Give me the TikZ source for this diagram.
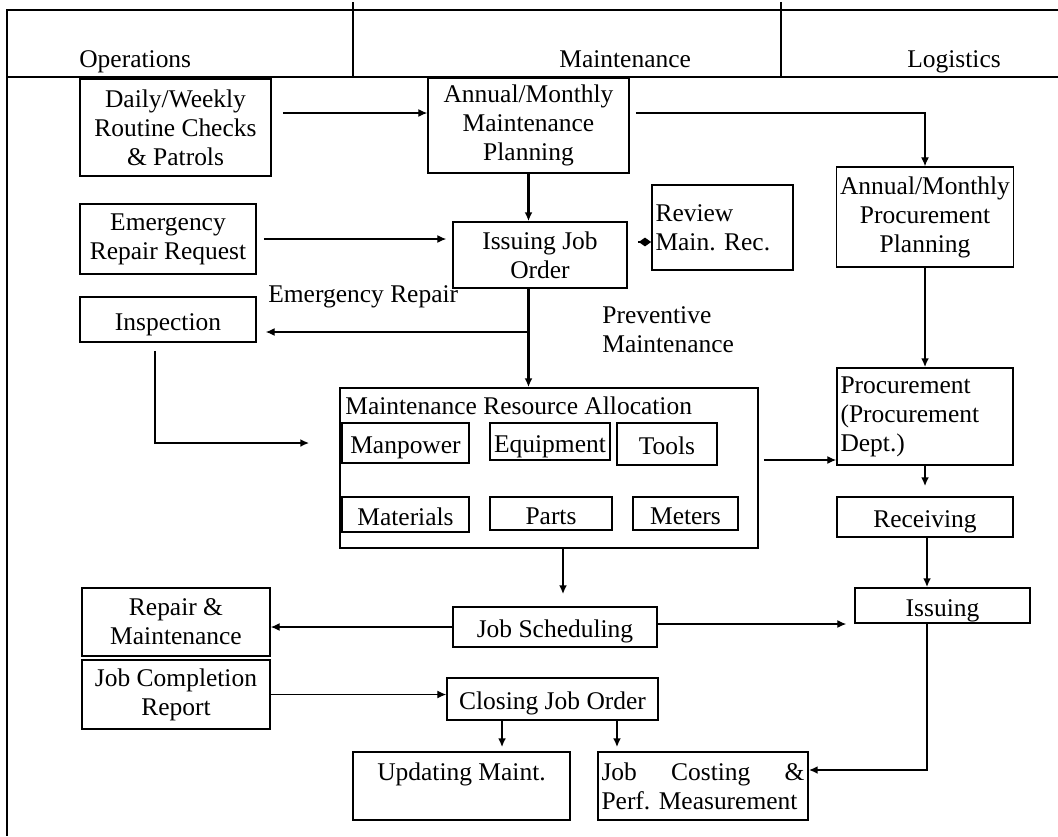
\documentclass[tikz,border=0pt]{standalone}
\usepackage{fontspec}
\setmainfont{Liberation Serif}
\usetikzlibrary{arrows.meta}

\begin{document}
\frenchspacing
\begin{tikzpicture}[x = 0.02cm, y = -0.02cm, font = \fontsize{14.5}{16.5}\selectfont,
    box/.style = { draw, line width = 1pt, inner sep = 2pt, align = center },
    sbox/.style = { box, text height = 12pt, text depth = 0pt },
    lbox/.style = { box, align = left },
    thinline/.style = { line width = .6pt, -{Latex[length = 5pt, width = 4.5pt]} },
    thickline/.style = { line width = 1.2pt, -{Latex[length = 5pt, width = 4.5pt]} }]
    \useasboundingbox (0,0) rectangle (1058,836);
    \draw[line width = 1.6pt] (1058,10) -- (7,10) -- (7,836);
    \draw[line width = 1pt] (7,77) -- (1058,77);
    \draw[line width = 1.4pt] (353,2) -- (353,77) (781,2) -- (781,77);
    \node[anchor = base west, inner sep = 0pt] (ops) at (79,67) {Operations};
    \node[anchor = base west, inner sep = 0pt] (mnt) at (559,67) {Maintenance};
    \node[anchor = base west, inner sep = 0pt] (log) at (907,67) {Logistics};

    \node[box, minimum width = 3.82cm, minimum height = 1.94cm] (daily) at (175.5,127.5) {Daily/Weekly\\Routine Checks\\\& Patrols};
    \node[box, minimum width = 4.02cm, minimum height = 1.90cm] (amp) at (528.5,125.5) {Annual/Monthly\\Maintenance\\Planning};
    \node[box, minimum width = 3.52cm, minimum height = 1.40cm] (err) at (168,239) {Emergency\\Repair Request};
    \node[box, minimum width = 3.48cm, minimum height = 1.32cm] (ijo) at (540,255) {Issuing Job\\Order};
    \node[lbox, text width = 2.68cm, minimum height = 1.70cm] (rev) at (722.5,227.5) {Review\\Main. Rec.};
    \node[box, minimum width = 3.52cm, minimum height = 2.00cm] (app) at (925,217) {Annual/Monthly\\Procurement\\Planning};
    \node[sbox, minimum width = 3.52cm, minimum height = 0.90cm] (insp) at (168,319.5) {Inspection};
    \node[box, minimum width = 8.36cm, minimum height = 3.20cm] (mra) at (549,468) {};
    \node[anchor = base west, inner sep = 0pt] (mratitle) at (345,414) {Maintenance Resource Allocation};
    \node[sbox, minimum width = 2.54cm, minimum height = 0.80cm] (manp) at (405.5,443) {Manpower};
    \node[sbox, minimum width = 2.40cm, minimum height = 0.74cm] (equip) at (550,441.5) {Equipment};
    \node[sbox, minimum width = 2.00cm, minimum height = 0.84cm] (tools) at (667,444) {Tools};
    \node[sbox, minimum width = 2.54cm, minimum height = 0.70cm] (matl) at (405.5,514.5) {Materials};
    \node[sbox, minimum width = 2.44cm, minimum height = 0.66cm] (parts) at (551,513.5) {Parts};
    \node[sbox, minimum width = 2.10cm, minimum height = 0.66cm] (meters) at (685.5,513.5) {Meters};
    \node[lbox, text width = 3.38cm, minimum height = 1.94cm] (proc) at (925,416.5) {Procurement\\(Procurement\\Dept.)};
    \node[sbox, minimum width = 3.52cm, minimum height = 0.80cm] (recv) at (925,517) {Receiving};
    \node[sbox, minimum width = 3.50cm, minimum height = 0.70cm] (iss) at (942.5,605.5) {Issuing};
    \node[sbox, minimum width = 4.08cm, minimum height = 0.80cm] (js) at (555,627) {Job Scheduling};
    \node[box, minimum width = 3.76cm, minimum height = 1.36cm] (rm) at (176,622) {Repair \&\\Maintenance};
    \node[box, minimum width = 3.76cm, minimum height = 1.38cm] (jcr) at (176,694.5) {Job Completion\\Report};
    \node[sbox, minimum width = 4.22cm, minimum height = 0.84cm] (cjo) at (552.5,699) {Closing Job Order};
    \node[box, minimum width = 4.34cm, minimum height = 1.36cm] (upd) at (461.5,786) {Updating Maint.\\\mbox{}};
    \node[lbox, text width = 4.06cm, minimum height = 1.36cm] (jc) at (703,786) {Job\hfill Costing\hfill \&\\Perf. Measurement};
    \node[anchor = base west, inner sep = 0pt] (erlab) at (268,302) {Emergency Repair};
    \node[anchor = north west, align = left, inner sep = 0pt] (pmlab) at (602,306) {Preventive\\Maintenance};

    \coordinate (er) at (528.5,332);
    \draw[thinline, shorten <= 0.22cm] ([yshift = 0.29cm]daily.east) -- ([yshift = 0.29cm]daily.east -| amp.west);
    \draw[thinline, shorten <= 0.12cm] ([yshift = 0.25cm]amp.east) -| (app.north);
    \draw[thickline] (amp.south) -- (amp.south |- ijo.north);
    \draw[thinline, shorten <= 0.14cm, shorten >= 0.12cm] (err.east) -- (err.east -| ijo.west);
    \draw[line width = .6pt, -{Diamond[length = 7pt, width = 5pt]}, shorten <= 0.2cm] ([yshift = -0.29cm]rev.west -| ijo.east) -- ([yshift = -0.29cm]rev.west);
    \draw[thickline] (amp.south |- ijo.south) -- (amp.south |- mra.north);
    \draw[thinline, shorten >= 0.18cm] (er) -- (er -| insp.east);
    \draw[thickline, shorten <= 0.16cm, shorten >= 0.64cm] ([xshift = -0.26cm]insp.south) |- (manp.west);
    \draw[thinline, shorten <= 0.1cm] ([yshift = -0.87cm]proc.west -| mra.east) -- ([yshift = -0.87cm]proc.west);
    \draw[thickline] (app.south) -- (proc.north);
    \draw[thickline, shorten >= 0.2cm] (proc.south) -- (recv.north);
    \draw[thickline] ([xshift = 0.04cm]recv.south) -- ([xshift = 0.04cm]recv.south |- iss.north);
    \draw[thickline, shorten >= 0.24cm] ([xshift = 0.28cm]mra.south) -- ([xshift = 0.28cm]mra.south |- js.north);
    \draw[thinline, shorten >= 0.16cm] ([yshift = 0.06cm]js.east) -- ([yshift = 0.06cm]js.east -| iss.west);
    \draw[thinline] (js.west) -- (js.west -| rm.east);
    \draw[thinline] (jcr.east) -- (jcr.east -| cjo.west);
    \draw[thickline, shorten >= 0.08cm] ([xshift = -1.01cm]cjo.south) -- ([xshift = -1.01cm]cjo.south |- upd.north);
    \draw[thickline, shorten >= 0.08cm] ([xshift = 1.29cm]cjo.south) -- ([xshift = 1.29cm]cjo.south |- jc.north);
    \draw[thickline] ([xshift = -0.31cm]iss.south) |- ([yshift = 0.32cm]jc.east);
\end{tikzpicture}
\end{document}
